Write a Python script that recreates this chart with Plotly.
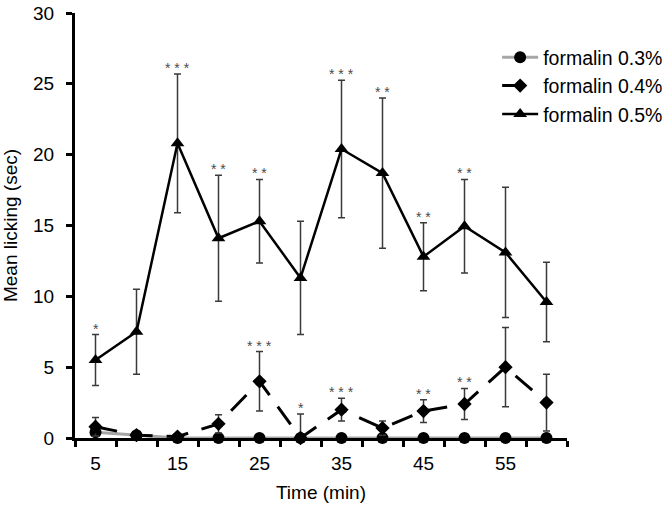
import plotly.graph_objects as go

time_min = [5, 10, 15, 20, 25, 30, 35, 40, 45, 50, 55, 60]

f03_mean = [0.4, 0.2, 0.0, 0.0, 0.0, 0.0, 0.0, 0.0, 0.0, 0.0, 0.0, 0.0]
f03_err = [0.0, 0.0, 0.0, 0.0, 0.0, 0.0, 0.0, 0.0, 0.0, 0.0, 0.0, 0.0]

f04_mean = [0.8, 0.2, 0.1, 1.0, 4.0, 0.0, 2.0, 0.7, 1.9, 2.4, 5.0, 2.5]
f04_err = [0.65, 0.1, 0.1, 0.65, 2.1, 1.7, 0.8, 0.5, 0.8, 1.1, 2.8, 2.0]
f04_sig = ["", "", "", "", "***", "*", "***", "", "**", "**", "", ""]

f05_mean = [5.5, 7.5, 20.8, 14.1, 15.3, 11.3, 20.4, 18.7, 12.8, 14.95, 13.1, 9.6]
f05_err = [1.8, 3.0, 4.9, 4.45, 2.95, 4.0, 4.85, 5.3, 2.4, 3.3, 4.6, 2.8]
f05_sig = ["*", "", "***", "**", "**", "", "***", "**", "**", "**", "", ""]

x_tick_vals = [5, 15, 25, 35, 45, 55]
x_boundaries = [2.5 + 5 * i for i in range(13)]
y_tick_vals = [0, 5, 10, 15, 20, 25, 30]

FONT = "Liberation Sans, Arial, sans-serif"
ERR_COLOR = "#3a3a3a"


def err_bar(mean, err):
    return dict(type="data", symmetric=False, array=err,
                arrayminus=[min(e, m) for e, m in zip(err, mean)],
                color=ERR_COLOR, thickness=1.5, width=3.5,
                visible=any(e > 0 for e in err))


fig = go.Figure()

fig.add_trace(go.Scatter(
    x=time_min, y=f03_mean, name="formalin 0.3%", legendgroup="a",
    mode="lines+markers",
    line=dict(color="#a6a6a6", width=3),
    marker=dict(symbol="circle", size=12, color="black"),
    error_y=err_bar(f03_mean, f03_err),
    cliponaxis=False,
))

fig.add_trace(go.Scatter(
    x=time_min, y=f04_mean, name="formalin 0.4%", legendgroup="b",
    mode="lines+markers",
    line=dict(color="black", width=3, dash="22px,14px"),
    marker=dict(symbol="diamond", size=11, color="black"),
    error_y=err_bar(f04_mean, f04_err),
    cliponaxis=False,
))

fig.add_trace(go.Scatter(
    x=time_min, y=f05_mean, name="formalin 0.5%", legendgroup="c",
    mode="lines+markers",
    line=dict(color="black", width=2.5),
    marker=dict(symbol="triangle-up", size=12, color="black"),
    error_y=err_bar(f05_mean, f05_err),
    cliponaxis=False,
))

for means, errs, sigs in ((f04_mean, f04_err, f04_sig), (f05_mean, f05_err, f05_sig)):
    for t, m, e, s in zip(time_min, means, errs, sigs):
        if s:
            fig.add_annotation(
                x=t, y=m + e, text=" ".join(s), showarrow=False,
                xanchor="center", yanchor="middle", yshift=6,
                font=dict(family=FONT, size=14, color="#4a4a4a"),
            )

fig.update_layout(
    width=672, height=507,
    margin=dict(l=75, r=105, t=13, b=69, autoexpand=False),
    paper_bgcolor="white", plot_bgcolor="white",
    font=dict(family=FONT, size=19, color="black"),
    showlegend=True,
    legend=dict(
        x=0.858, y=0.941, xanchor="left", yanchor="top",
        bgcolor="rgba(0,0,0,0)", borderwidth=0,
        font=dict(family=FONT, size=19.5, color="black"),
        tracegroupgap=0, itemwidth=36,
    ),
    xaxis=dict(
        range=[2.5, 62.5], showgrid=False, zeroline=False,
        showline=True, linecolor="black", linewidth=3,
        tickmode="array", tickvals=x_tick_vals,
        ticktext=[str(v) for v in x_tick_vals],
        ticks="outside", ticklen=0, tickwidth=0, tickcolor="black",
        ticklabelstandoff=6,
        tickfont=dict(family=FONT, size=19, color="black"),
        minor=dict(tickmode="array", tickvals=x_boundaries,
                   ticks="outside", ticklen=6, tickwidth=2.5,
                   tickcolor="black", showgrid=False),
        title=dict(text="Time (min)", standoff=13,
                   font=dict(family=FONT, size=19, color="black")),
        layer="below traces", automargin=False,
    ),
    yaxis=dict(
        range=[0, 30], showgrid=False, zeroline=False,
        showline=True, linecolor="black", linewidth=3,
        tickmode="array", tickvals=y_tick_vals,
        ticks="outside", ticklen=6, tickwidth=2.5, tickcolor="black",
        ticklabelstandoff=8,
        tickfont=dict(family=FONT, size=19, color="black"),
        title=dict(text="Mean licking (sec)", standoff=14,
                   font=dict(family=FONT, size=19, color="black")),
        layer="below traces", automargin=False,
    ),
)

# remove the page's default 8px body margin so the figure fills the window
fig.write_html("out.html", config={"displayModeBar": False},
               post_script="document.body.style.margin='0px';")
